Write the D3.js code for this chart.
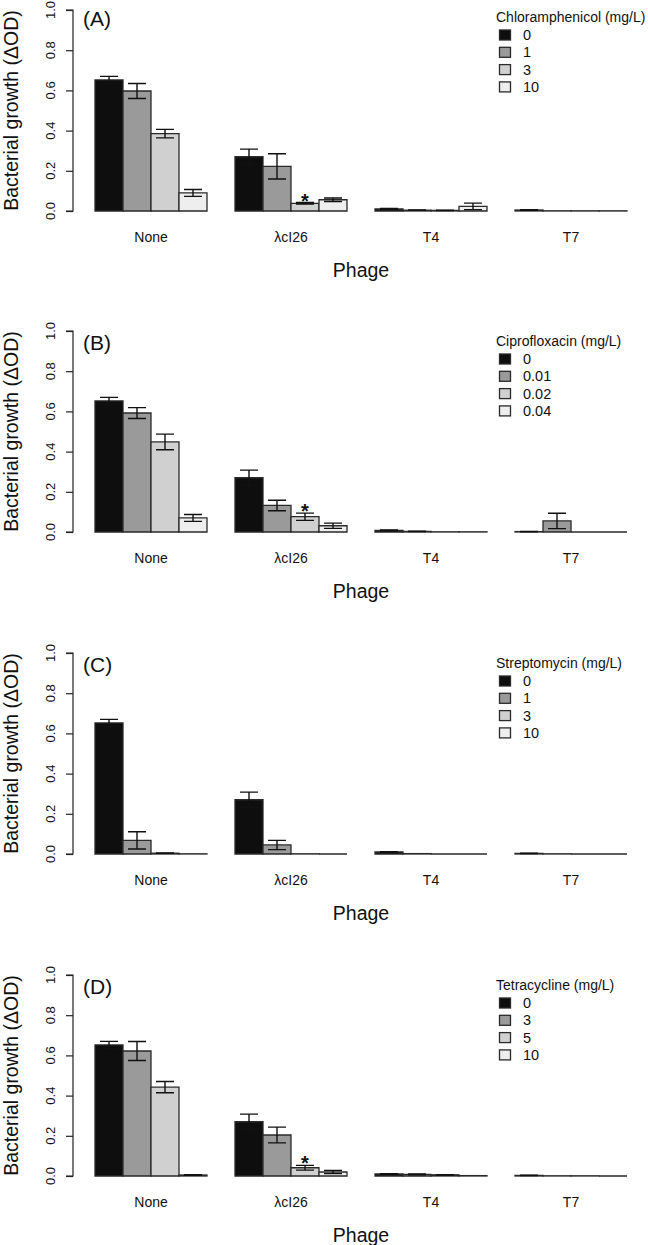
<!DOCTYPE html>
<html><head><meta charset="utf-8">
<script src="https://cdn.jsdelivr.net/npm/d3@7"></script>
<style>body{margin:0;background:#fff}text{font-family:"Liberation Sans",Arial,sans-serif;fill:#111}</style>
</head><body>
<svg id="c" width="648" height="1245"></svg>
<script>
const categories = ["None", "\u03bbcI26", "T4", "T7"];
const panelLabels = ["(A)", "(B)", "(C)", "(D)"];
const legendTitles = ["Chloramphenicol (mg/L)", "Ciprofloxacin (mg/L)", "Streptomycin (mg/L)", "Tetracycline (mg/L)"];
const doses = [["0","1","3","10"], ["0","0.01","0.02","0.04"], ["0","1","3","10"], ["0","3","5","10"]];
const yTicks = [0, 0.2, 0.4, 0.6, 0.8, 1.0];

// means[category][dose]
const meansA = [[0.652,0.597,0.385,0.090],[0.270,0.222,0.038,0.056],[0.010,0.004,0.003,0.023],[0.005,0.001,0.001,0.001]];
const errA   = [[0.018,0.037,0.021,0.017],[0.038,0.063,0.004,0.009],[0.003,0.001,0.001,0.016],[0.001,0,0,0]];
const meansB = [[0.652,0.592,0.448,0.070],[0.270,0.132,0.076,0.031],[0.008,0.003,0.001,0.001],[0.002,0.055,0,0]];
const errB   = [[0.018,0.027,0.039,0.017],[0.038,0.026,0.018,0.013],[0.002,0.001,0,0],[0.001,0.038,0,0]];
const meansC = [[0.652,0.068,0.004,0.001],[0.270,0.045,0.001,0],[0.010,0.002,0,0],[0.003,0.001,0,0]];
const errC   = [[0.018,0.043,0.001,0],[0.038,0.023,0,0],[0.002,0,0,0],[0.001,0,0,0]];
const meansD = [[0.652,0.622,0.442,0.005],[0.270,0.204,0.041,0.020],[0.010,0.008,0.006,0.002],[0.003,0.001,0.001,0]];
const errD   = [[0.018,0.047,0.028,0.001],[0.038,0.039,0.012,0.008],[0.002,0.002,0.001,0],[0.001,0,0,0]];
// significance stars: [category, dose]
const starsA = [[1,2]], starsB = [[1,2]], starsC = [], starsD = [[1,2]];

const panels = [
  {means: meansA, err: errA, stars: starsA},
  {means: meansB, err: errB, stars: starsB},
  {means: meansC, err: errC, stars: starsC},
  {means: meansD, err: errD, stars: starsD}
];

const fills = ["#0e0e0e", "#9a9a9a", "#d0d0d0", "#eeeeee"];
const stroke = "#2a2a2a";
const zeroY = [211, 532, 854, 1176];
const headShift = [-3, 0, 0, 0];
const axH = 201;

const svg = d3.select("#c");
const x = d3.scaleLinear().domain([0, 20]).range([67, 627]);

panels.forEach((p, pi) => {
  const y = d3.scaleLinear().domain([0, 1]).range([zeroY[pi], zeroY[pi] - axH]);
  const g = svg.append("g");

  // y axis (lines from d3 axis, labels rotated manually)
  const ax = g.append("g").attr("transform", "translate(73,0)")
    .call(d3.axisLeft(y).tickValues(yTicks).tickFormat("").tickSize(7));
  ax.select(".domain").attr("stroke", "#222").attr("stroke-width", 1.2).attr("d", `M-7,${y(0)}H0V${y(1)}H-7`);
  ax.selectAll(".tick line").attr("stroke", "#222").attr("stroke-width", 1.2);
  yTicks.forEach(t => {
    g.append("text").attr("transform", `translate(50,${y(t)}) rotate(-90)`)
      .attr("text-anchor", "middle").attr("dominant-baseline", "central")
      .style("font-size", "13px").attr("fill", "#222").text(d3.format(".1f")(t));
  });

  g.append("text").attr("transform", `translate(11,${(y(0) + y(1)) / 2}) rotate(-90)`)
    .attr("text-anchor", "middle").attr("dominant-baseline", "central")
    .style("font-size", "19.5px").text("Bacterial growth (\u0394OD)");

  g.append("text").attr("x", 83).attr("y", y(1) + 11 + headShift[pi])
    .attr("dominant-baseline", "central").style("font-size", "21px").text(panelLabels[pi]);

  // bars
  const data = [];
  p.means.forEach((row, ci) => row.forEach((v, di) => data.push({ci, di, v, e: p.err[ci][di]})));
  data.forEach(d => {
    const x0 = x(d.ci * 5 + d.di + 1), x1 = x(d.ci * 5 + d.di + 2);
    g.append("path").attr("d", `M${x0},${y(0)}V${y(d.v)}H${x1}V${y(0)}Z`)
      .attr("fill", fills[d.di]).attr("stroke", stroke).attr("stroke-width", 1.3);
  });
  data.filter(d => d.e > 0).forEach(d => {
    const cx = x(d.ci * 5 + d.di + 1.5);
    const hi = y(d.v + d.e), lo = y(Math.max(0, d.v - d.e));
    g.append("path").attr("d", `M${cx - 9},${hi}H${cx + 9}M${cx},${hi}V${lo}M${cx - 9},${lo}H${cx + 9}`)
      .attr("fill", "none").attr("stroke", "#111").attr("stroke-width", 1.4);
  });
  p.stars.forEach(([ci, di]) => {
    const v = p.means[ci][di] + p.err[ci][di];
    g.append("text").attr("x", x(ci * 5 + di + 1.5)).attr("y", y(v) + 5)
      .attr("text-anchor", "middle").style("font-size", "20px").style("font-weight", "bold").text("*");
  });

  // category labels
  categories.forEach((c, ci) => {
    g.append("text").attr("x", x(ci * 5 + 3)).attr("y", y(0) + 26)
      .attr("text-anchor", "middle").attr("dominant-baseline", "central")
      .style("font-size", "14px").text(c);
  });
  g.append("text").attr("x", x(10.5)).attr("y", y(0) + 59)
    .attr("text-anchor", "middle").attr("dominant-baseline", "central")
    .style("font-size", "19.5px").text("Phage");

  // legend
  const ly = y(1) + 10 + headShift[pi];
  g.append("text").attr("x", 496).attr("y", ly).attr("dominant-baseline", "central")
    .style("font-size", "14px").text(legendTitles[pi]);
  doses[pi].forEach((d, di) => {
    const ry = ly + 18 + di * 17.3;
    g.append("rect").attr("x", 499.5).attr("y", ry - 5).attr("width", 11).attr("height", 10)
      .attr("fill", fills[di]).attr("stroke", stroke).attr("stroke-width", 1.3);
    g.append("text").attr("x", 523).attr("y", ry).attr("dominant-baseline", "central")
      .style("font-size", "14.5px").text(d);
  });
});
</script>
</body></html>
